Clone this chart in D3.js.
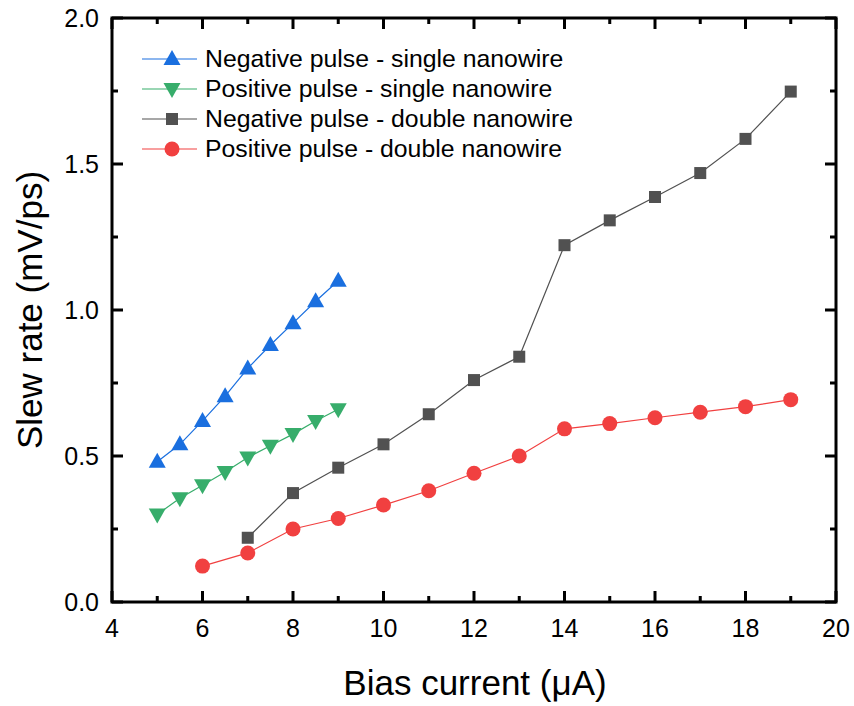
<!DOCTYPE html>
<html><head><meta charset="utf-8">
<script src="https://cdn.jsdelivr.net/npm/d3@7"></script>
<style>body{margin:0;background:#fff}</style>
</head><body>
<script>
const xNegSingle = [5,5.5,6,6.5,7,7.5,8,8.5,9];
const yNegSingle = [0.48,0.54,0.62,0.705,0.80,0.88,0.955,1.03,1.10];
const xPosSingle = [5,5.5,6,6.5,7,7.5,8,8.5,9];
const yPosSingle = [0.30,0.355,0.40,0.445,0.495,0.535,0.575,0.62,0.66];
const xNegDouble = [7,8,9,10,11,12,13,14,15,16,17,18,19];
const yNegDouble = [0.22,0.373,0.46,0.54,0.643,0.76,0.84,1.222,1.307,1.387,1.469,1.586,1.748];
const xPosDouble = [6,7,8,9,10,11,12,13,14,15,16,17,18,19];
const yPosDouble = [0.123,0.168,0.25,0.286,0.332,0.381,0.441,0.5,0.593,0.611,0.631,0.65,0.669,0.693];
const seriesNames = ["Negative pulse - single nanowire","Positive pulse - single nanowire","Negative pulse - double nanowire","Positive pulse - double nanowire"];
const xTicks = [4,6,8,10,12,14,16,18,20];
const xMinorTicks = [5,7,9,11,13,15,17,19];
const yTicks = [0.0,0.5,1.0,1.5,2.0];
const yMinorTicks = [0.25,0.75,1.25,1.75];

const W=854,H=706;
const m={l:112,r:836,t:18,b:602};
const svg=d3.select("body").append("svg").attr("width",W).attr("height",H);
const x=d3.scaleLinear().domain([4,20]).range([m.l,m.r]);
const y=d3.scaleLinear().domain([0,2]).range([m.b,m.t]);
const font="Liberation Sans, Arial, sans-serif";

const series=[
 {xs:xNegSingle,ys:yNegSingle,color:"#1a6fdf",sym:"up"},
 {xs:xPosSingle,ys:yPosSingle,color:"#37ad6b",sym:"down"},
 {xs:xNegDouble,ys:yNegDouble,color:"#515151",sym:"sq"},
 {xs:xPosDouble,ys:yPosDouble,color:"#f14040",sym:"circ"}
];

function marker(g,cx,cy,s){
  if(s.sym==="up"){
    g.append("path").attr("d",`M${cx},${cy-9}L${cx+8.5},${cy+6}L${cx-8.5},${cy+6}Z`).attr("fill",s.color);
  } else if(s.sym==="down"){
    g.append("path").attr("d",`M${cx},${cy+9}L${cx+8.5},${cy-6}L${cx-8.5},${cy-6}Z`).attr("fill",s.color);
  } else if(s.sym==="sq"){
    g.append("rect").attr("x",cx-6).attr("y",cy-6).attr("width",12).attr("height",12).attr("fill",s.color);
  } else {
    g.append("circle").attr("cx",cx).attr("cy",cy).attr("r",7.5).attr("fill",s.color);
  }
}

const line=d3.line().x(d=>x(d[0])).y(d=>y(d[1]));
series.forEach(s=>{
  const pts=s.xs.map((v,i)=>[v,s.ys[i]]);
  svg.append("path").datum(pts).attr("d",line).attr("fill","none").attr("stroke",s.color).attr("stroke-width",1.2);
  const g=svg.append("g");
  pts.forEach(p=>marker(g,x(p[0]),y(p[1]),s));
});

// ticks (inward, on all four sides)
function tickRects(vals,len,horiz){
  vals.forEach(v=>{
    if(horiz){
      const px=x(v);
      svg.append("rect").attr("x",px-1.5).attr("y",m.b-len).attr("width",3).attr("height",len).attr("fill","#000");
      svg.append("rect").attr("x",px-1.5).attr("y",m.t).attr("width",3).attr("height",len).attr("fill","#000");
    } else {
      const py=y(v);
      svg.append("rect").attr("x",m.l).attr("y",py-1.5).attr("width",len).attr("height",3).attr("fill","#000");
      svg.append("rect").attr("x",m.r-len).attr("y",py-1.5).attr("width",len).attr("height",3).attr("fill","#000");
    }
  });
}
tickRects(xTicks,11,true); tickRects(xMinorTicks,6,true);
tickRects(yTicks,11,false); tickRects(yMinorTicks,6,false);

svg.append("rect").attr("x",m.l).attr("y",m.t).attr("width",m.r-m.l).attr("height",m.b-m.t)
  .attr("fill","none").attr("stroke","#000").attr("stroke-width",3);

// tick labels
svg.append("g").selectAll("text").data(xTicks).join("text")
  .attr("x",d=>x(d)).attr("y",637).attr("text-anchor","middle")
  .attr("font-family",font).attr("font-size",25).text(d=>d3.format("d")(d));
svg.append("g").selectAll("text").data(yTicks).join("text")
  .attr("x",99).attr("y",d=>y(d)+9).attr("text-anchor","end")
  .attr("font-family",font).attr("font-size",25).text(d=>d3.format(".1f")(d));

// titles
svg.append("text").attr("x",475).attr("y",695).attr("text-anchor","middle")
  .attr("font-family",font).attr("font-size",35).text("Bias current (μA)");
svg.append("text").attr("transform",`translate(42,310) rotate(-90)`).attr("text-anchor","middle")
  .attr("font-family",font).attr("font-size",35).text("Slew rate (mV/ps)");

// legend
series.forEach((s,i)=>{
  const ly=59+i*30;
  svg.append("line").attr("x1",142).attr("x2",197).attr("y1",ly).attr("y2",ly).attr("stroke",s.color).attr("stroke-width",1.2);
  marker(svg,172,ly,s);
  svg.append("text").attr("x",205).attr("y",ly+8).attr("font-family",font).attr("font-size",24.8).text(seriesNames[i]);
});
</script>
</body></html>
